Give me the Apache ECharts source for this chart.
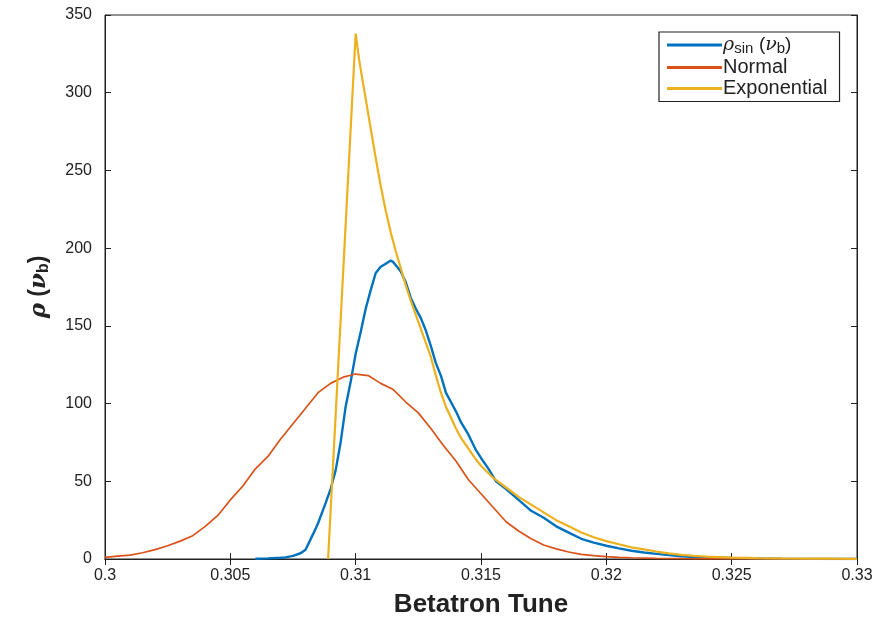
<!DOCTYPE html>
<html>
<head>
<meta charset="utf-8">
<script src="https://cdn.jsdelivr.net/npm/echarts@6/dist/echarts.min.js"></script>
<style>
  html, body { margin: 0; padding: 0; background: #ffffff; }
  #chart { width: 889px; height: 621px; }
</style>
</head>
<body>
<div id="chart"></div>
<script>
// Betatron tune distributions: sampled density, Gaussian and exponential fits
const tuneSin = [0.3060, 0.3065, 0.3070, 0.3072, 0.3075, 0.3078, 0.3080, 0.3083, 0.3085, 0.3088,
  0.3090, 0.3092, 0.3094, 0.3096, 0.3098, 0.3100, 0.3102, 0.3104, 0.3106, 0.3108,
  0.3110, 0.3112, 0.3114, 0.3115, 0.3116, 0.3118, 0.3120, 0.3122, 0.3124, 0.3126,
  0.3128, 0.3130, 0.3132, 0.3134, 0.3136, 0.3138, 0.3140, 0.3142, 0.3145, 0.3148,
  0.3150, 0.3153, 0.3156, 0.3160, 0.3165, 0.3170, 0.3175, 0.3180, 0.3185, 0.3190,
  0.3195, 0.3200, 0.3205, 0.3210, 0.3215, 0.3220, 0.3225, 0.3230, 0.3235, 0.3240,
  0.3250, 0.3260, 0.3270, 0.3280, 0.3300];
const rhoSin = [0.2, 0.4, 0.8, 1, 2, 3.7, 6, 16, 23, 36,
  45, 57, 75, 98, 114, 132, 146, 161, 173, 184,
  188, 190, 192, 191, 189, 185, 178, 168, 161, 155,
  147, 137, 126, 118, 107, 101, 95, 88, 80, 70,
  65, 58, 50, 45, 38, 31, 26.5, 21, 17, 13,
  10.5, 8.5, 6.8, 5.3, 4.2, 3.3, 2.5, 1.8, 1.3, 1,
  0.6, 0.4, 0.2, 0.1, 0];

const tuneNormal = [0.3000, 0.3005, 0.3010, 0.3015, 0.3020, 0.3025, 0.3030, 0.3035, 0.3040, 0.3045,
  0.3050, 0.3055, 0.3060, 0.3065, 0.3070, 0.3075, 0.3080, 0.3085, 0.3090, 0.3095,
  0.3100, 0.3105, 0.3110, 0.3115, 0.3120, 0.3125, 0.3130, 0.3135, 0.3140, 0.3145,
  0.3150, 0.3155, 0.3160, 0.3165, 0.3170, 0.3175, 0.3180, 0.3185, 0.3190, 0.3195,
  0.3200, 0.3205, 0.3210, 0.3215, 0.3220, 0.3230, 0.3240, 0.3260, 0.3280, 0.3300];
const rhoNormal = [1.0, 1.8, 2.5, 4, 6, 8.5, 11.5, 15, 21, 28,
  38, 47, 58, 66, 77, 87, 97, 107, 113, 117,
  119, 118, 113, 109, 101, 94, 84, 73, 63, 51,
  42, 33, 24, 18, 13, 9, 6.5, 4.5, 3, 2.2,
  1.5, 1.1, 0.8, 0.6, 0.4, 0.2, 0.1, 0, 0, 0];

const tuneExp = [0.30890, 0.31000, 0.31015, 0.31040, 0.31060, 0.31080, 0.31100, 0.31120, 0.31140, 0.31160,
  0.31180, 0.31200, 0.31220, 0.31240, 0.31260, 0.31280, 0.31300, 0.31320, 0.31340, 0.31360,
  0.31380, 0.31400, 0.31420, 0.31450, 0.31480, 0.31500, 0.31550, 0.31600, 0.31650, 0.31700,
  0.31750, 0.31800, 0.31850, 0.31900, 0.31950, 0.32000, 0.32050, 0.32100, 0.32150, 0.32200,
  0.32250, 0.32300, 0.32350, 0.32400, 0.32500, 0.32600, 0.32700, 0.32800, 0.32900, 0.33000];
const rhoExp = [0, 338, 320, 296, 277, 258, 240, 224, 210, 198,
  187, 176, 166, 157, 148, 139, 130, 118, 107, 98,
  91, 84, 78, 71, 64, 60, 52, 46, 40, 35,
  30, 25, 21, 17, 14, 11.5, 9.5, 7.5, 6.2, 4.8,
  3.6, 2.7, 2, 1.5, 0.9, 0.6, 0.4, 0.3, 0.2, 0.1];

const xTicks = { min: 0.3, max: 0.33, step: 0.005 };
const yTicks = { min: 0, max: 350, step: 50 };

const seriesNames = ['sin', 'Normal', 'Exponential'];
const colors = ['#0072BD', '#D95319', '#EDB120'];

function pairs(xs, ys) { return xs.map((x, i) => [x, ys[i]]); }

const axisColor = '#222222';
const font = '"Liberation Sans", Arial, Helvetica, sans-serif';

const chart = echarts.init(document.getElementById('chart'), null, { renderer: 'canvas' });

const tickCommon = { inside: true, length: 6, lineStyle: { color: axisColor, width: 1 } };

chart.setOption({
  backgroundColor: '#ffffff',
  animation: false,
  grid: { left: 105, right: 32, top: 15, bottom: 62, show: true, borderColor: axisColor, borderWidth: 1,
    containLabel: false, outerBoundsMode: 'none' },
  legend: {
    left: 659, top: 32,
    orient: 'vertical',
    itemGap: 1,
    itemWidth: 55, itemHeight: 3,
    icon: 'rect',
    padding: [3, 12, 3, 8],
    borderColor: axisColor, borderWidth: 1.2,
    backgroundColor: '#ffffff',
    data: seriesNames,
    formatter: function (name) {
      if (name === 'sin') return '{g|ρ}{sub|sin} {t|(}{g|ν}{sub|b}{t|)}';
      return name;
    },
    textStyle: {
      fontFamily: font, fontSize: 20, color: axisColor, padding: [0, 0, 0, -4],
      rich: {
        g: { fontFamily: '"DejaVu Serif", serif', fontStyle: 'italic', fontSize: 19, color: axisColor },
        t: { fontFamily: font, fontSize: 19, color: axisColor },
        sub: { fontFamily: font, fontSize: 15, color: axisColor, verticalAlign: 'bottom', padding: [8, 0, 0, 0] }
      }
    }
  },
  xAxis: [{
    type: 'value', min: xTicks.min, max: xTicks.max, interval: xTicks.step,
    name: 'Betatron Tune', nameLocation: 'middle', nameGap: 33,
    nameTextStyle: { fontFamily: font, fontSize: 26, fontWeight: 'bold', color: axisColor },
    axisLine: { show: true, onZero: false, lineStyle: { color: axisColor } },
    axisTick: tickCommon,
    axisLabel: { fontFamily: font, fontSize: 16, color: axisColor, margin: 9,
      formatter: v => String(+v.toFixed(3)) },
    splitLine: { show: false }
  }, {
    type: 'value', position: 'top', min: xTicks.min, max: xTicks.max, interval: xTicks.step,
    axisLine: { show: true, lineStyle: { color: axisColor } },
    axisTick: tickCommon, axisLabel: { show: false }, splitLine: { show: false }
  }],
  yAxis: [{
    type: 'value', min: yTicks.min, max: yTicks.max, interval: yTicks.step,
    name: '{g|ρ} {t|(}{g|ν}{sub|b}{t|)}', nameLocation: 'middle', nameGap: 53,
    nameTextStyle: {
      fontFamily: font, fontSize: 23, fontWeight: 'bold', color: axisColor,
      rich: {
        g: { fontFamily: '"DejaVu Serif", serif', fontStyle: 'italic', fontSize: 23, color: axisColor },
        t: { fontFamily: font, fontSize: 23, fontWeight: 'bold', color: axisColor },
        sub: { fontFamily: font, fontSize: 16, fontWeight: 'bold', color: axisColor, verticalAlign: 'bottom', padding: [10, 0, 0, 0] }
      }
    },
    axisLine: { show: true, onZero: false, lineStyle: { color: axisColor } },
    axisTick: tickCommon,
    axisLabel: { fontFamily: font, fontSize: 16, color: axisColor, margin: 13 },
    splitLine: { show: false }
  }, {
    type: 'value', position: 'right', min: yTicks.min, max: yTicks.max, interval: yTicks.step,
    axisLine: { show: true, lineStyle: { color: axisColor } },
    axisTick: tickCommon, axisLabel: { show: false }, splitLine: { show: false }
  }],
  series: [
    { name: 'sin', type: 'line', data: pairs(tuneSin, rhoSin), showSymbol: false,
      lineStyle: { color: colors[0], width: 2.4 }, itemStyle: { color: colors[0] } },
    { name: 'Normal', type: 'line', data: pairs(tuneNormal, rhoNormal), showSymbol: false,
      lineStyle: { color: colors[1], width: 1.7 }, itemStyle: { color: colors[1] } },
    { name: 'Exponential', type: 'line', data: pairs(tuneExp, rhoExp), showSymbol: false,
      lineStyle: { color: colors[2], width: 2.2 }, itemStyle: { color: colors[2] } }
  ]
});
</script>
</body>
</html>
